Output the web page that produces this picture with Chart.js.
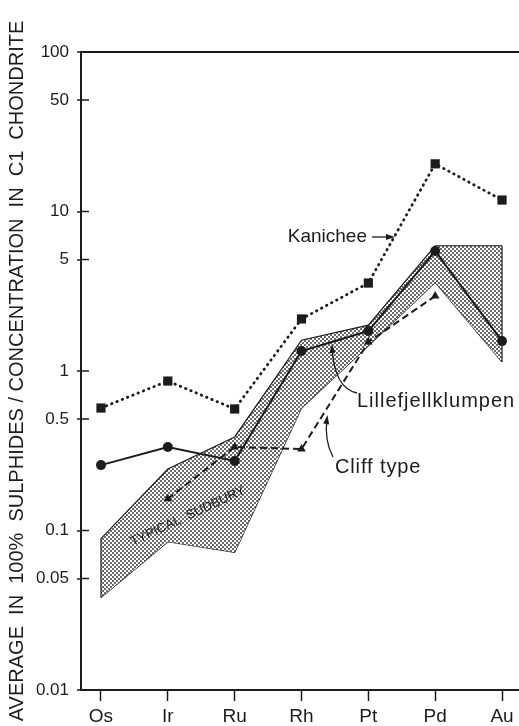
<!DOCTYPE html>
<html>
<head>
<meta charset="utf-8">
<script src="https://cdn.jsdelivr.net/npm/chart.js@4.4.1/dist/chart.umd.min.js"></script>
<style>
  html, body { margin: 0; padding: 0; background: #fff; }
</style>
</head>
<body>
<canvas id="js--chart" width="519" height="726"></canvas>
<script>
// elements along the x axis
const elements = ['Os', 'Ir', 'Ru', 'Rh', 'Pt', 'Pd', 'Au'];
// y ticks (log)
const yTicks = [100, 50, 10, 5, 1, 0.5, 0.1, 0.05, 0.01];

// values
const kanichee = [0.586, 0.865, 0.578, 2.12, 3.56, 19.9, 11.8];
const lillefjell = [0.257, 0.334, 0.273, 1.335, 1.78, 5.65, 1.54];
const cliff = [null, 0.158, 0.334, 0.324, 1.52, 2.95, null];
const sudburyHigh = [0.089, 0.243, 0.386, 1.56, 1.94, 6.1, 6.1];
const sudburyLow = [0.038, 0.085, 0.073, 0.586, 1.44, 3.6, 1.14];

const ink = '#1c1c1c';

function pts(arr) {
    return arr.map((v, i) => ({ x: i, y: v }));
}

// stipple for the sudbury band
const tile = document.createElement('canvas');
tile.width = 4; tile.height = 4;
const tc = tile.getContext('2d');
tc.fillStyle = '#fff';
tc.fillRect(0, 0, 4, 4);
tc.fillStyle = '#6a6a6a';
tc.fillRect(0, 0, 2, 2);
tc.fillRect(2, 2, 2, 2);
const stipple = tc.createPattern(tile, 'repeat');

// labels and leaders, in data units (x = element index, y = value)
const notes = [
    { text: 'Kanichee', x: 3.98, y: 6.44, align: 'right', size: 19, spacing: 0 },
    { text: 'Lillefjellklumpen', x: 3.83, y: 0.595, align: 'left', size: 20, spacing: 1 },
    { text: 'Cliff type', x: 3.50, y: 0.229, align: 'left', size: 20, spacing: 0.9 }
];
const leaders = [
    { from: [4.055, 6.92], ctrl: [4.2, 6.92], to: [4.354, 6.92] },
    { from: [3.83, 0.728], ctrl: [3.487, 0.782], to: [3.457, 1.414] },
    { from: [3.471, 0.289], ctrl: [3.337, 0.369], to: [3.382, 0.507] }
];

const extras = {
    id: 'extras',
    afterDatasetsDraw(chart) {
        const ctx = chart.ctx, xs = chart.scales.x, ys = chart.scales.y;
        const left = chart.chartArea.left;
        ctx.save();
        ctx.strokeStyle = ink;
        ctx.fillStyle = ink;

        // inner tick marks on y axis
        ctx.lineWidth = 1.5;
        yTicks.forEach(v => {
            const py = ys.getPixelForValue(v);
            ctx.beginPath();
            ctx.moveTo(left, py);
            ctx.lineTo(left + 8, py);
            ctx.stroke();
        });

        // closing edges of the band
        ctx.lineWidth = 1.2;
        [0, elements.length - 1].forEach(i => {
            const px = xs.getPixelForValue(i);
            ctx.beginPath();
            ctx.moveTo(px, ys.getPixelForValue(sudburyHigh[i]));
            ctx.lineTo(px, ys.getPixelForValue(sudburyLow[i]));
            ctx.stroke();
        });

        // leaders with arrowheads
        ctx.lineWidth = 1.3;
        leaders.forEach(l => {
            const p0 = [xs.getPixelForValue(l.from[0]), ys.getPixelForValue(l.from[1])];
            const c = [xs.getPixelForValue(l.ctrl[0]), ys.getPixelForValue(l.ctrl[1])];
            const p1 = [xs.getPixelForValue(l.to[0]), ys.getPixelForValue(l.to[1])];
            ctx.beginPath();
            ctx.moveTo(p0[0], p0[1]);
            ctx.quadraticCurveTo(c[0], c[1], p1[0], p1[1]);
            ctx.stroke();
            const a = Math.atan2(p1[1] - c[1], p1[0] - c[0]);
            ctx.beginPath();
            ctx.moveTo(p1[0] + 3 * Math.cos(a), p1[1] + 3 * Math.sin(a));
            ctx.lineTo(p1[0] - 6 * Math.cos(a) + 3 * Math.sin(a), p1[1] - 6 * Math.sin(a) - 3 * Math.cos(a));
            ctx.lineTo(p1[0] - 6 * Math.cos(a) - 3 * Math.sin(a), p1[1] - 6 * Math.sin(a) + 3 * Math.cos(a));
            ctx.closePath();
            ctx.fill();
        });

        // text labels
        ctx.textBaseline = 'alphabetic';
        notes.forEach(n => {
            ctx.font = n.size + 'px "Liberation Sans", Arial, sans-serif';
            ctx.letterSpacing = n.spacing + 'px';
            ctx.textAlign = n.align;
            ctx.fillText(n.text, xs.getPixelForValue(n.x), ys.getPixelForValue(n.y));
        });
        ctx.letterSpacing = '0px';

        // band label
        ctx.save();
        ctx.translate(xs.getPixelForValue(1.30), ys.getPixelForValue(0.123));
        ctx.rotate(-25 * Math.PI / 180);
        ctx.font = '13px "Liberation Sans Narrow", "Liberation Sans", Arial, sans-serif';
        ctx.textAlign = 'center';
        ctx.textBaseline = 'middle';
        ctx.fillText('TYPICAL  SUDBURY', 0, 0);
        ctx.restore();

        ctx.restore();
    }
};

new Chart(document.getElementById('js--chart'), {
    type: 'line',
    data: {
        datasets: [
            {
                label: 'Kanichee',
                data: pts(kanichee),
                borderColor: ink,
                backgroundColor: ink,
                borderWidth: 2.8,
                borderDash: [0.5, 5.2],
                borderCapStyle: 'round',
                pointStyle: 'rect',
                pointRadius: 6.5,
                pointBorderWidth: 0,
                fill: false
            },
            {
                label: 'Lillefjellklumpen',
                data: pts(lillefjell),
                borderColor: ink,
                backgroundColor: ink,
                borderWidth: 2,
                pointStyle: 'circle',
                pointRadius: 5,
                pointBorderWidth: 0,
                fill: false
            },
            {
                label: 'Cliff type',
                data: pts(cliff),
                borderColor: ink,
                backgroundColor: ink,
                borderWidth: 2,
                borderDash: [7, 4],
                pointStyle: 'triangle',
                pointRadius: 5,
                pointBorderWidth: 0,
                fill: false
            },
            {
                label: 'Typical Sudbury',
                data: pts(sudburyHigh),
                borderColor: ink,
                borderWidth: 1.2,
                backgroundColor: stipple,
                pointRadius: 0,
                fill: '+1'
            },
            {
                label: 'Typical Sudbury low',
                data: pts(sudburyLow),
                borderColor: ink,
                borderWidth: 1.2,
                pointRadius: 0,
                fill: false
            }
        ]
    },
    options: {
        responsive: false,
        animation: false,
        layout: { autoPadding: false, padding: { top: 52, right: 0, bottom: 0, left: 0 } },
        plugins: {
            legend: { display: false },
            tooltip: { enabled: false }
        },
        scales: {
            x: {
                type: 'linear',
                min: -0.299,
                max: 6.254,
                afterBuildTicks: s => { s.ticks = elements.map((e, i) => ({ value: i })); },
                afterFit: s => { s.height = 36; s.paddingLeft = 0; s.paddingRight = 0; },
                ticks: {
                    callback: v => elements[v],
                    color: ink,
                    padding: 4,
                    maxRotation: 0,
                    font: { family: '"Liberation Sans", Arial, sans-serif', size: 19 }
                },
                grid: {
                    drawOnChartArea: false,
                    tickLength: 11,
                    tickColor: ink,
                    tickWidth: 1.5
                },
                border: { color: ink, width: 2 }
            },
            y: {
                type: 'logarithmic',
                min: 0.01,
                max: 100,
                afterBuildTicks: s => { s.ticks = yTicks.map(v => ({ value: v })); },
                afterFit: s => { s.width = 81; },
                ticks: {
                    callback: v => String(v),
                    color: ink,
                    padding: 8,
                    font: { family: '"Liberation Sans", Arial, sans-serif', size: 17 }
                },
                grid: {
                    color: c => (c.tick && c.tick.value === 100) ? ink : 'rgba(0,0,0,0)',
                    lineWidth: 2,
                    tickLength: 4,
                    tickColor: ink,
                    tickWidth: 1.5
                },
                border: { color: ink, width: 2 },
                title: {
                    display: true,
                    text: 'AVERAGE  IN  100%  SULPHIDES / CONCENTRATION  IN  C1  CHONDRITE',
                    color: ink,
                    padding: { top: 5, bottom: 0 },
                    font: { family: '"Liberation Sans Narrow", "Liberation Sans", Arial, sans-serif', size: 20 }
                }
            }
        }
    },
    plugins: [extras]
});
</script>
</body>
</html>
